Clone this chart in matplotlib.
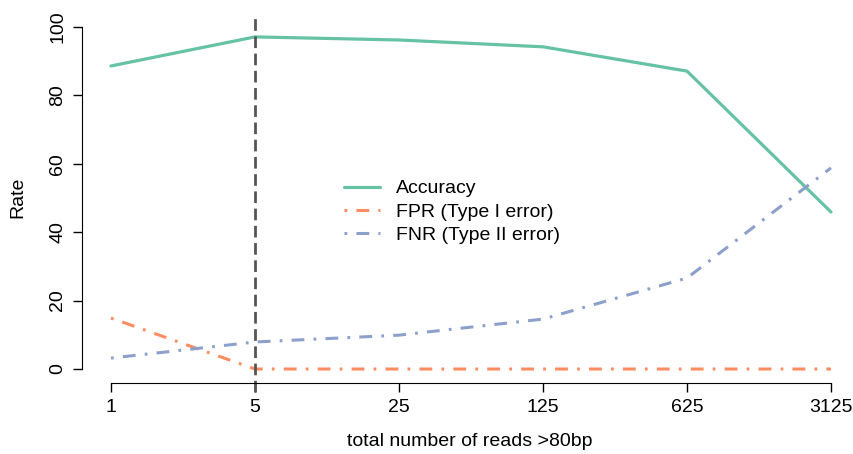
import numpy as np
import matplotlib
matplotlib.use('Agg')
import matplotlib.pyplot as plt

# Data
reads = [1, 5, 25, 125, 625, 3125]
accuracy = [88.6, 97.1, 96.2, 94.2, 87.1, 45.9]
fpr = [14.9, 0.0, 0.0, 0.0, 0.0, 0.0]
fnr = [3.2, 7.9, 9.9, 14.6, 26.6, 58.8]
y_ticks = [0, 20, 40, 60, 80, 100]
cutoff = 5

col_acc = '#66C2A5'
col_fpr = '#FC8D62'
col_fnr = '#8DA0CB'

plt.rcParams['font.family'] = ['Liberation Sans', 'DejaVu Sans']
plt.rcParams['font.size'] = 14

W, H = 854, 454
fig = plt.figure(figsize=[W / 100, H / 100], dpi=100)
left, right, top, bottom = 82.2, 854, 13.3, 382.7
ax = fig.add_axes([left / W, 1 - bottom / H, (right - left) / W, (bottom - top) / H])

# Plotting
ax.plot(reads, accuracy, color=col_acc, lw=2.3, label='Accuracy',
        solid_capstyle='round')
l_fpr, = ax.plot(reads, fpr, color=col_fpr, lw=2.2, label='FPR (Type I error)')
l_fnr, = ax.plot(reads, fnr, color=col_fnr, lw=2.2, label='FNR (Type II error)')
for ln in (l_fpr, l_fnr):
    ln.set_dashes((0.9, 3.0, 4.2, 3.0))
ax.axvline(cutoff, ymin=-0.025, ymax=0.99, color='#555555', lw=2.0,
           dashes=(4.2, 2.0), clip_on=False)

ax.set_xscale('log')
ax.set_xlim(5 ** -0.2, 5 ** (5 + (right - 831) / 144))
ax.set_ylim(-4, 104)
ax.set_xticks(reads)
ax.set_xticklabels([str(r) for r in reads])
ax.minorticks_off()
ax.set_yticks(y_ticks)
ax.set_yticklabels([str(t) for t in y_ticks], rotation=90, va='center')

for s in ['top', 'right']:
    ax.spines[s].set_visible(False)
ax.spines['left'].set_bounds(0, 100)
ax.spines['bottom'].set_bounds(1, 3125)
ax.tick_params(axis='both', length=6.5, width=1, pad=5, labelsize=14)

ax.set_xlabel('total number of reads >80bp', fontsize=14, va='center')
ax.xaxis.set_label_coords(470 / W, 1 - 441 / H, transform=fig.transFigure)
ax.set_ylabel('Rate', fontsize=14, va='center')
ax.yaxis.set_label_coords(18 / W, 1 - 197 / H, transform=fig.transFigure)

ax.legend(loc='upper left', bbox_to_anchor=(334 / W, 1 - 170 / H),
          bbox_transform=fig.transFigure, frameon=False, borderpad=0,
          handlelength=1.85, handletextpad=0.85, labelspacing=0.3, fontsize=14)

plt.savefig('out.png', dpi=100)
plt.close(fig)
